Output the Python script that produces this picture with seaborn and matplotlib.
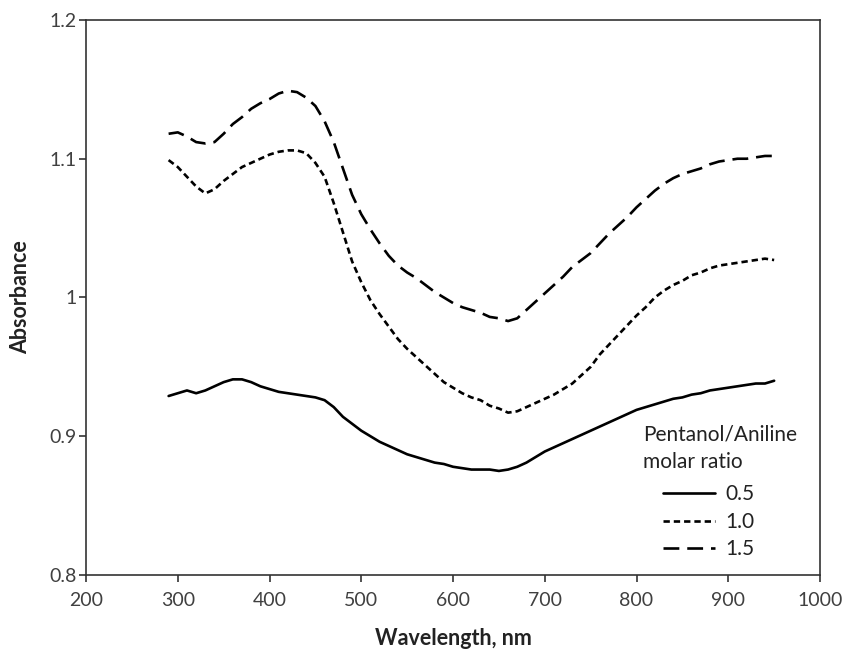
import numpy as np
import pandas as pd
import seaborn as sns
import matplotlib.pyplot as plt
from matplotlib.ticker import FuncFormatter
from matplotlib.lines import Line2D

"""
1. Data read off the spectra (absorbance vs wavelength)
"""
wavelength = list(range(290, 951, 10))

abs_05 = [0.929, 0.931, 0.933, 0.931, 0.933, 0.936, 0.939, 0.941, 0.941, 0.939,
          0.936, 0.934, 0.932, 0.931, 0.930, 0.929, 0.928, 0.926, 0.921, 0.914,
          0.909, 0.904, 0.900, 0.896, 0.893, 0.890, 0.887, 0.885, 0.883, 0.881,
          0.880, 0.878, 0.877, 0.876, 0.876, 0.876, 0.875, 0.876, 0.878, 0.881,
          0.885, 0.889, 0.892, 0.895, 0.898, 0.901, 0.904, 0.907, 0.910, 0.913,
          0.916, 0.919, 0.921, 0.923, 0.925, 0.927, 0.928, 0.930, 0.931, 0.933,
          0.934, 0.935, 0.936, 0.937, 0.938, 0.938, 0.940]

abs_10 = [1.099, 1.094, 1.087, 1.080, 1.075, 1.078, 1.084, 1.089, 1.094, 1.097,
          1.100, 1.103, 1.105, 1.106, 1.106, 1.104, 1.097, 1.087, 1.068, 1.047,
          1.026, 1.011, 0.998, 0.988, 0.979, 0.970, 0.963, 0.957, 0.951, 0.945,
          0.939, 0.935, 0.931, 0.928, 0.926, 0.922, 0.920, 0.917, 0.918, 0.921,
          0.924, 0.927, 0.930, 0.934, 0.938, 0.944, 0.950, 0.959, 0.966, 0.973,
          0.980, 0.987, 0.993, 1.000, 1.005, 1.009, 1.012, 1.016, 1.018, 1.021,
          1.023, 1.024, 1.025, 1.026, 1.027, 1.028, 1.027]

abs_15 = [1.118, 1.119, 1.116, 1.112, 1.111, 1.112, 1.118, 1.125, 1.130, 1.136,
          1.140, 1.143, 1.147, 1.149, 1.148, 1.144, 1.138, 1.127, 1.112, 1.093,
          1.074, 1.060, 1.049, 1.039, 1.030, 1.023, 1.018, 1.014, 1.009, 1.004,
          1.000, 0.996, 0.993, 0.991, 0.989, 0.986, 0.985, 0.983, 0.985, 0.991,
          0.997, 1.003, 1.009, 1.015, 1.022, 1.027, 1.032, 1.039, 1.046, 1.052,
          1.058, 1.065, 1.071, 1.077, 1.082, 1.086, 1.089, 1.091, 1.093, 1.096,
          1.098, 1.099, 1.100, 1.100, 1.101, 1.102, 1.102]

ratios = ['0.5', '1.0', '1.5']

data = pd.DataFrame({
    'Wavelength': wavelength * 3,
    'Absorbance': abs_05 + abs_10 + abs_15,
    'Ratio': np.repeat(ratios, len(wavelength))})

"""
2. Plot
"""
sns.set_style('white')
plt.rcParams['font.family'] = ['Lato', 'DejaVu Sans']

text_grey = '#404040'
text_dark = '#222222'
lw = 1.9
line_dashes = {'0.5': '', '1.0': (2.4, 1.5), '1.5': (6.0, 3.0)}

fig = plt.figure(figsize=(8.46, 6.57), dpi=100)
ax = fig.add_axes([0.1017, 0.1248, 0.8676, 0.8448])

sns.lineplot(data=data, x='Wavelength', y='Absorbance', hue='Ratio',
             style='Ratio', dashes=line_dashes,
             palette=['black', 'black', 'black'], linewidth=lw,
             legend=False, ax=ax)

ax.set_xlim(200, 1000)
ax.set_ylim(0.8, 1.2)
ax.set_xticks(range(200, 1001, 100))
ax.set_yticks([0.8, 0.9, 1.0, 1.1, 1.2])
ax.yaxis.set_major_formatter(FuncFormatter(lambda v, p: f'{v:g}'))

for side in ['left', 'right', 'top', 'bottom']:
    ax.spines[side].set_color('#333333')
    ax.spines[side].set_linewidth(1.2)

ax.tick_params(axis='both', which='major', direction='out', length=5,
               width=1.2, color='#333333', labelsize=14,
               labelcolor=text_grey)
ax.tick_params(axis='x', pad=7)
ax.tick_params(axis='y', pad=1.5)
ax.tick_params(left=True, bottom=True)

ax.set_xlabel('Wavelength, nm', fontsize=15.5, fontweight='bold',
              color=text_dark, labelpad=14)
ax.set_ylabel('Absorbance', fontsize=15.5, fontweight='bold',
              color=text_dark, labelpad=13)

# legend: title as plain text, entries indented below it
ax.text(0.759, 0.2523, 'Pentanol/Aniline', transform=ax.transAxes,
        fontsize=15, color=text_dark, va='center', ha='left')
ax.text(0.759, 0.2036, 'molar ratio', transform=ax.transAxes,
        fontsize=15, color=text_dark, va='center', ha='left')

handles = [Line2D([], [], color='black', linewidth=lw, linestyle='-'),
           Line2D([], [], color='black', linewidth=lw,
                  dashes=line_dashes['1.0']),
           Line2D([], [], color='black', linewidth=lw,
                  dashes=line_dashes['1.5'])]
leg = ax.legend(handles, ratios, loc='upper left',
                bbox_to_anchor=(0.786, 0.1634), frameon=False, fontsize=15,
                handlelength=2.5, handletextpad=0.48, labelspacing=0.36,
                borderpad=0, borderaxespad=0)
for t in leg.get_texts():
    t.set_color(text_dark)

plt.savefig('out.png', dpi=100)
